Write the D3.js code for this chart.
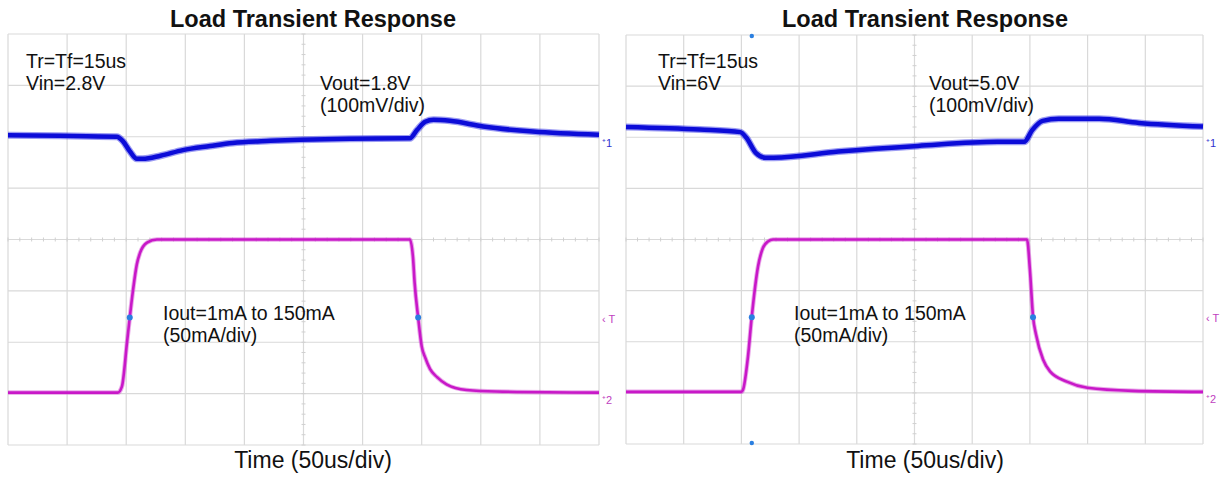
<!DOCTYPE html>
<html>
<head>
<meta charset="utf-8">
<script src="https://cdn.jsdelivr.net/npm/d3@7"></script>
<style>
  body { margin: 0; background: #fff; }
  svg { display: block; }
  text { font-family: "Liberation Sans", Arial, sans-serif; fill: #111; }
</style>
</head>
<body>
<svg id="chart"></svg>
<script>
const width = 1225, height = 478;

// time in us (50us/div), Vout deviation in mV (100mV/div), Iout in mA (50mA/div)
const leftVoutTime = [0, 44, 92, 97, 103, 109, 114, 129, 148, 171, 190, 222, 247, 289, 340, 346, 353, 360, 374, 402, 444, 500];
const leftVoutMv   = [3, 2, 0, -8, -28, -43, -43, -37, -26, -18, -12, -8, -6, -4, -3, 13, 29, 33, 31, 20, 10, 4];
const leftIoutTime = [0, 93, 96.4, 100.7, 103, 105.8, 109, 111.7, 117.6, 126, 340, 342.6, 344, 347, 350, 353, 357, 363, 371, 388, 413, 500];
const leftIoutMa   = [1, 1, 7, 50, 74, 101, 126, 137, 147, 150, 150, 133, 108, 74, 46, 35, 24, 16, 9, 3.5, 2, 1];

const rightVoutTime = [0, 64, 99, 104, 112.7, 121, 128, 184, 253, 322, 345, 352, 361, 375, 410, 444.5, 500];
const rightVoutMv   = [20, 15, 10, 0, -31, -40, -40, -28, -17, -9, -9, 14, 32, 36, 36, 28, 21];
const rightIoutTime = [0, 100, 101.4, 105.7, 109, 114.4, 118.7, 123, 127.4, 347.5, 350, 352.7, 355.3, 361.4, 367.4, 382, 399.7, 439, 500];
const rightIoutMa   = [1, 1, 3, 35.5, 74.6, 123.5, 142, 148, 150, 150, 120.6, 74.6, 57, 32.6, 21, 11, 5, 2, 1];

const triggerMa = 74;
const leftTriggerTimes = [103, 347];
const rightTriggerTimes = [109, 352.7];

const titleText = "Load Transient Response";
const axisText = "Time (50us/div)";
const leftNotes = ["Tr=Tf=15us", "Vin=2.8V", "Vout=1.8V", "(100mV/div)", "Iout=1mA to 150mA", "(50mA/div)"];
const rightNotes = ["Tr=Tf=15us", "Vin=6V", "Vout=5.0V", "(100mV/div)", "Iout=1mA to 150mA", "(50mA/div)"];

const svg = d3.select("#chart").attr("width", width).attr("height", height);
svg.append("rect").attr("width", width).attr("height", height).attr("fill", "#fff");

function drawPanel(p) {
    const x = d3.scaleLinear().domain([0, 500]).range([p.x0, p.x1]);
    const yDiv = d3.scaleLinear().domain([0, 8]).range([p.y1, p.y0]);
    // channel 1 zero sits on div 6, channel 2 zero on div 1
    const yV = d3.scaleLinear().domain([-600, 200]).range([p.y1, p.y0]);
    const yI = d3.scaleLinear().domain([-50, 350]).range([p.y1, p.y0]);

    const g = svg.append("g");

    // grid
    g.append("g").selectAll("line").data(d3.range(0, 501, 50)).enter().append("line")
        .attr("x1", d => x(d)).attr("x2", d => x(d))
        .attr("y1", p.y0).attr("y2", p.y1)
        .attr("stroke", "#d9d9d9").attr("stroke-width", 1.2);
    g.append("g").selectAll("line").data(d3.range(0, 9)).enter().append("line")
        .attr("y1", d => yDiv(d)).attr("y2", d => yDiv(d))
        .attr("x1", p.x0).attr("x2", p.x1)
        .attr("stroke", "#d9d9d9").attr("stroke-width", 1.2);

    // minor ticks on centre lines
    g.append("g").selectAll("line").data(d3.range(0, 501, 10)).enter().append("line")
        .attr("x1", d => x(d)).attr("x2", d => x(d))
        .attr("y1", yDiv(4) - 2).attr("y2", yDiv(4) + 2)
        .attr("stroke", "#d0d0d0").attr("stroke-width", 1);
    g.append("g").selectAll("line").data(d3.range(0, 8.01, 0.2)).enter().append("line")
        .attr("y1", d => yDiv(d)).attr("y2", d => yDiv(d))
        .attr("x1", x(250) - 2).attr("x2", x(250) + 2)
        .attr("stroke", "#d0d0d0").attr("stroke-width", 1);

    // traces
    const vLine = d3.line().x(d => x(d[0])).y(d => yV(d[1])).curve(d3.curveMonotoneX);
    const iLine = d3.line().x(d => x(d[0])).y(d => yI(d[1])).curve(d3.curveMonotoneX);
    const vData = d3.zip(p.vTime, p.vMv);
    const iData = d3.zip(p.iTime, p.iMa);

    g.append("path").attr("d", vLine(vData)).attr("fill", "none")
        .attr("stroke", "#3a3ae8").attr("stroke-opacity", 0.5).attr("stroke-width", 7);
    g.append("path").attr("d", vLine(vData)).attr("fill", "none")
        .attr("stroke", "#0c0cd8").attr("stroke-width", 4.5);

    g.append("path").attr("d", iLine(iData)).attr("fill", "none")
        .attr("stroke", "#d040d0").attr("stroke-opacity", 0.45).attr("stroke-width", 4.5);
    g.append("path").attr("d", iLine(iData)).attr("fill", "none")
        .attr("stroke", "#c818c8").attr("stroke-width", 2.6);

    // trigger dots
    g.append("g").selectAll("circle").data(p.trig).enter().append("circle")
        .attr("cx", d => x(d)).attr("cy", yI(triggerMa)).attr("r", 3)
        .attr("fill", "#2a7fe0");
    if (p.trigEdge) {
        g.append("circle").attr("cx", x(p.trig[0])).attr("cy", p.y0 + 1).attr("r", 2.2).attr("fill", "#2a7fe0");
        g.append("circle").attr("cx", x(p.trig[0])).attr("cy", p.y1 - 1).attr("r", 2.2).attr("fill", "#2a7fe0");
    }

    // channel markers
    g.append("text").attr("x", p.x1 + 3).attr("y", yDiv(5.8)).attr("font-size", 11)
        .style("fill", "#3030d0").text("⁺1");
    g.append("text").attr("x", p.x1 + 3).attr("y", yI(triggerMa) + 5).attr("font-size", 11)
        .style("fill", "#c040c0").text("‹ T");
    g.append("text").attr("x", p.x1 + 3).attr("y", yDiv(0.8)).attr("font-size", 11)
        .style("fill", "#c040c0").text("⁺2");

    // titles and notes
    svg.append("text").attr("x", p.cx).attr("y", 26.5).attr("text-anchor", "middle")
        .attr("font-size", 23.5).attr("font-weight", "bold").text(titleText);
    svg.append("text").attr("x", p.cx).attr("y", 468).attr("text-anchor", "middle")
        .attr("font-size", 23).text(axisText);

    const n = p.notes;
    const note = (s, tx, ty) => svg.append("text").attr("x", tx).attr("y", ty)
        .attr("font-size", 19.5).text(s);
    note(n[0], p.noteX, 67.5);
    note(n[1], p.noteX, 89.5);
    note(n[2], p.voutX, 90);
    note(n[3], p.voutX, 111.5);
    note(n[4], p.ioutX, 320);
    note(n[5], p.ioutX, 341.5);
}

drawPanel({
    x0: 8, x1: 599, y0: 34, y1: 445, cx: 313,
    vTime: leftVoutTime, vMv: leftVoutMv, iTime: leftIoutTime, iMa: leftIoutMa,
    trig: leftTriggerTimes, trigEdge: false, notes: leftNotes,
    noteX: 26, voutX: 320, ioutX: 163
});
drawPanel({
    x0: 626, x1: 1203, y0: 35, y1: 444, cx: 925,
    vTime: rightVoutTime, vMv: rightVoutMv, iTime: rightIoutTime, iMa: rightIoutMa,
    trig: rightTriggerTimes, trigEdge: true, notes: rightNotes,
    noteX: 658, voutX: 929, ioutX: 794
});
</script>
</body>
</html>
